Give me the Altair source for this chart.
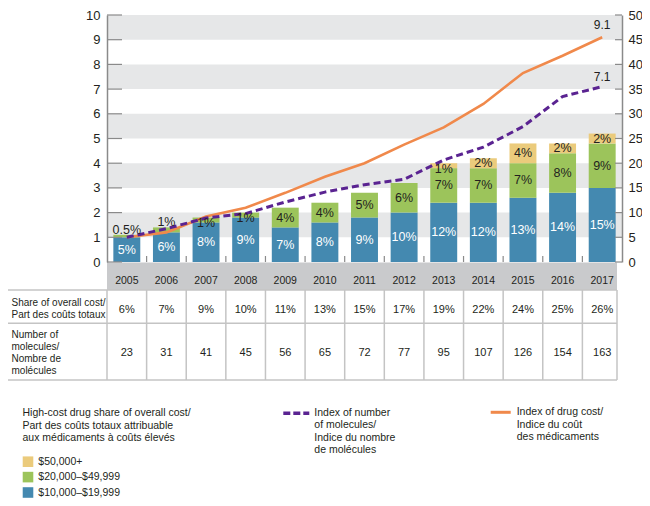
import altair as alt
import pandas as pd

# ---------------- data ----------------
years = ["2005", "2006", "2007", "2008", "2009", "2010", "2011",
         "2012", "2013", "2014", "2015", "2016", "2017"]
tier_names = ["$10,000–$19,999", "$20,000–$49,999", "$50,000+"]
share_10k_20k = [5, 6, 8, 9, 7, 8, 9, 10, 12, 12, 13, 14, 15]
share_20k_50k = [0.5, 1, 1, 1, 4, 4, 5, 6, 7, 7, 7, 8, 9]
share_50k_plus = [0, 0, 0, 0, 0, 0, 0, 0, 1, 2, 4, 2, 2]
drug_cost_index = [1.0, 1.2, 1.84, 2.2, 2.8, 3.45, 4.0, 4.75, 5.45, 6.4, 7.65, 8.35, 9.1]
molecule_index = [1.0, 1.35, 1.78, 1.96, 2.43, 2.83, 3.13, 3.35, 4.13, 4.65, 5.48, 6.7, 7.1]
share_overall = [6, 7, 9, 10, 11, 13, 15, 17, 19, 22, 24, 25, 26]
molecule_count = [23, 31, 41, 45, 56, 65, 72, 77, 95, 107, 126, 154, 163]
left_ticks = list(range(0, 11))
right_ticks = list(range(0, 51, 5))
gray_band_starts = [1, 3, 5, 7, 9]
above_label_years = ["2005", "2006"]

# ---------------- style ----------------
tier_colors = ["#4489b0", "#9cc45b", "#ebcb7c"]
ORANGE = "#f0894b"
PURPLE = "#5a2391"
DARK = "#231f20"
AXIS_GRAY = "#8a8a8a"
BAND_GRAY = "#e6e7e8"
STRIP_GRAY = "#c9cacc"
TABLE_LINE = "#c4c4c4"
SANS = "Liberation Sans, Arial, Helvetica, sans-serif"
NARROW = "Liberation Sans Narrow, Arial Narrow, Liberation Sans, sans-serif"

PAD_LEFT, PAD_TOP = 99, 7
W, H = 515, 247


def py(page_y):
    return page_y - 8 - PAD_TOP


def px(page_x):
    return page_x - 8 - PAD_LEFT


# ---------------- tables ----------------
rows = []
for i, yr in enumerate(years):
    lo = 0
    for k, (tier, vals) in enumerate(zip(tier_names, [share_10k_20k, share_20k_50k, share_50k_plus])):
        v = vals[i]
        if v > 0:
            rows.append(dict(year=yr, tier=tier, value=v, lo=lo, hi=lo + v, mid=lo + v / 2,
                             label=f"{v:g}%", k=k))
        lo += v
bars_df = pd.DataFrame(rows)
bars_df["above"] = bars_df["year"].isin(above_label_years) & (bars_df["k"] == 1)
bars_df["small"] = (bars_df["value"] <= 1) & (~bars_df["above"])

lines_df = pd.DataFrame({"year": years, "cost": drug_cost_index, "mol": molecule_index})
end_cost = pd.DataFrame({"year": [years[-1]], "value": [drug_cost_index[-1]],
                         "lbl": [f"{drug_cost_index[-1]:.1f}"]})
end_mol = pd.DataFrame({"year": [years[-1]], "value": [molecule_index[-1]],
                        "lbl": [f"{molecule_index[-1]:.1f}"]})
table_df = pd.DataFrame({"year": years,
                         "share": [f"{v}%" for v in share_overall],
                         "count": [str(v) for v in molecule_count]})
band_df = pd.DataFrame({"lo": gray_band_starts, "hi": [b + 1 for b in gray_band_starts]})
lt_df = pd.DataFrame({"v": left_ticks})
rt_df = pd.DataFrame({"v": right_ticks})
bound_df = pd.DataFrame({"year": years[1:]})
legend_df = pd.DataFrame({"tier": tier_names[::-1]})

# ---------------- scales / axes ----------------
xscale = alt.Scale(domain=years, paddingInner=0, paddingOuter=0)
xaxis = alt.Axis(orient="bottom", title=None, domain=False, ticks=False, tickSize=0,
                 labelAngle=0, labelPadding=py(280) - H, labelBaseline="middle",
                 labelFont=NARROW, labelFontSize=10.5, labelColor=DARK, grid=False, zindex=2)
X = alt.X("year:N", scale=xscale, axis=xaxis)
Xb = alt.X("year:N", scale=xscale, axis=xaxis, bandPosition=0)

lscale = alt.Scale(domain=[0, 10], nice=False, zero=True)
rscale = alt.Scale(domain=[0, 50], nice=False, zero=True)
laxis = alt.Axis(orient="left", values=left_ticks, title=None, grid=False, ticks=False,
                 tickSize=0, domainColor=AXIS_GRAY, domainWidth=1.5, labelPadding=7,
                 labelFont=SANS, labelFontSize=13, labelColor=DARK, zindex=2)
raxis = alt.Axis(orient="right", values=right_ticks, title=None, grid=False, ticks=False,
                 tickSize=0, domainColor=AXIS_GRAY, domainWidth=1.5, labelPadding=6,
                 labelFont=SANS, labelFontSize=13, labelColor=DARK, zindex=2)


def one(txt):
    return pd.DataFrame({"t": [txt]})


def text_at(txt, page_x, first_line_page_y, size=10.5, lh=12.5, align="left", font=SANS):
    return alt.Chart(one(txt)).mark_text(
        align=align, baseline="middle", fontSize=size, lineHeight=lh, lineBreak="\n",
        font=font, color=DARK
    ).encode(x=alt.value(px(page_x)), y=alt.value(py(first_line_page_y)), text="t:N")


def rule_at(x, x2, y, y2, color=TABLE_LINE, width=1.5, dash=None):
    kw = dict(color=color, strokeWidth=width)
    if dash:
        kw["strokeDash"] = dash
    return alt.Chart(one("")).mark_rule(**kw).encode(
        x=alt.value(px(x)), x2=alt.value(px(x2)), y=alt.value(py(y)), y2=alt.value(py(y2)))


layers = []

# grey horizontal bands
layers.append(alt.Chart(band_df).mark_rect(color=BAND_GRAY).encode(
    x=alt.value(0), x2=alt.value(W),
    y=alt.Y("lo:Q", scale=lscale, axis=None), y2="hi:Q"))

# year strip
layers.append(alt.Chart(one("")).mark_rect(color=STRIP_GRAY).encode(
    x=alt.value(0), x2=alt.value(px(617)), y=alt.value(H + 0.5), y2=alt.value(py(290))))

# table grid
TOP, MID, BOT = 290, 323.3, 380
for yy in (TOP, MID, BOT):
    layers.append(rule_at(5, 617, yy, yy))
for xx in (5, 107, 617):
    layers.append(rule_at(xx, xx, TOP, BOT))
layers.append(alt.Chart(bound_df).mark_rule(color=TABLE_LINE, strokeWidth=1.5).encode(
    x=Xb, y=alt.value(py(TOP)), y2=alt.value(py(BOT))))

# bars
layers.append(alt.Chart(bars_df).mark_bar(width=alt.RelativeBandSize(0.68)).encode(
    x=X,
    y=alt.Y("lo:Q", scale=rscale, axis=raxis),
    y2="hi:Q",
    color=alt.Color("tier:N", scale=alt.Scale(domain=tier_names, range=tier_colors), legend=None)))

# tick marks
layers.append(alt.Chart(bound_df).mark_rule(color=AXIS_GRAY, strokeWidth=1.2).encode(
    x=Xb, y=alt.value(H - 6), y2=alt.value(H)))
layers.append(alt.Chart(lt_df).mark_rule(color=AXIS_GRAY, strokeWidth=1.2).encode(
    x=alt.value(0), x2=alt.value(15), y=alt.Y("v:Q", scale=lscale, axis=None)))
layers.append(alt.Chart(rt_df).mark_rule(color=AXIS_GRAY, strokeWidth=1.2).encode(
    x=alt.value(W - 7), x2=alt.value(W), y=alt.Y("v:Q", scale=rscale, axis=None)))

# lines
layers.append(alt.Chart(lines_df).mark_line(color=ORANGE, strokeWidth=2.6).encode(
    x=X, y=alt.Y("cost:Q", scale=lscale, axis=laxis)))
layers.append(alt.Chart(lines_df).mark_line(color=PURPLE, strokeWidth=3, strokeDash=[7, 4]).encode(
    x=X, y=alt.Y("mol:Q", scale=lscale, axis=None)))

# bar labels
base_lbl = alt.Chart(bars_df)
layers.append(base_lbl.transform_filter("!datum.above && !datum.small").mark_text(
    font=NARROW, fontSize=12.5, baseline="middle").encode(
    x=X, y=alt.Y("mid:Q", scale=rscale, axis=None), text="label:N",
    color=alt.Color("k:N", scale=alt.Scale(domain=[0, 1, 2], range=["#ffffff", DARK, DARK]), legend=None)))
layers.append(base_lbl.transform_filter("datum.small").mark_text(
    font=NARROW, fontSize=12.5, baseline="middle", dy=3, color=DARK).encode(
    x=X, y=alt.Y("mid:Q", scale=rscale, axis=None), text="label:N"))
layers.append(base_lbl.transform_filter("datum.above").mark_text(
    font=NARROW, fontSize=12.5, baseline="middle", dy=-5, color=DARK).encode(
    x=X, y=alt.Y("hi:Q", scale=rscale, axis=None), text="label:N"))

# line end labels
layers.append(alt.Chart(end_cost).mark_text(font=NARROW, fontSize=12, baseline="middle", dy=-12, color=DARK).encode(
    x=X, y=alt.Y("value:Q", scale=lscale, axis=None), text="lbl:N"))
layers.append(alt.Chart(end_mol).mark_text(font=NARROW, fontSize=12, baseline="middle", dy=-10, color=DARK).encode(
    x=X, y=alt.Y("value:Q", scale=lscale, axis=None), text="lbl:N"))

# table text
layers.append(alt.Chart(table_df).mark_text(font=SANS, fontSize=11, baseline="middle", color=DARK).encode(
    x=X, y=alt.value(py(310)), text="share:N"))
layers.append(alt.Chart(table_df).mark_text(font=SANS, fontSize=11, baseline="middle", color=DARK).encode(
    x=X, y=alt.value(py(353)), text="count:N"))
layers.append(text_at("Share of overall cost/\nPart des coûts totaux", 11.5, 303, size=10, lh=12))
layers.append(text_at("Number of\nmolecules/\nNombre de\nmolécules", 11.5, 335, size=10, lh=12))

# legend: tiers
layers.append(text_at("High-cost drug share of overall cost/\nPart des coûts totaux attribuable\naux médicaments à coûts élevés",
                      22.5, 413, size=10.5, lh=12.5))
ly = alt.Y("tier:N", scale=alt.Scale(type="point", domain=tier_names[::-1],
                                     range=[py(461.7), py(492.5)], padding=0), axis=None)
layers.append(alt.Chart(legend_df).mark_square(size=112, opacity=1, filled=True).encode(
    x=alt.value(px(28)), y=ly,
    color=alt.Color("tier:N", scale=alt.Scale(domain=tier_names, range=tier_colors), legend=None)))
layers.append(alt.Chart(legend_df).mark_text(align="left", baseline="middle", font=SANS, fontSize=10.5, color=DARK).encode(
    x=alt.value(px(38.3)), y=ly, text="tier:N"))

# legend: lines
layers.append(rule_at(283.3, 309.3, 413.3, 413.3, color=PURPLE, width=3.5, dash=[7, 3]))
layers.append(text_at("Index of number\nof molecules/\nIndice du nombre\nde molécules", 314.3, 413, size=10.5, lh=12.4))
layers.append(rule_at(490.7, 510.7, 412.3, 412.3, color=ORANGE, width=3))
layers.append(text_at("Index of drug cost/\nIndice du coût\ndes médicaments", 516.7, 412, size=10.5, lh=12.5))

chart = alt.layer(*layers).resolve_scale(y="independent", color="independent").properties(
    width=W, height=H,
    autosize=alt.AutoSizeParams(type="none"),
    padding={"left": PAD_LEFT, "top": PAD_TOP, "right": 20, "bottom": 236},
    background="white",
).configure_view(stroke=None)

chart.save("out.html", embed_options={"renderer": "svg", "actions": False})
